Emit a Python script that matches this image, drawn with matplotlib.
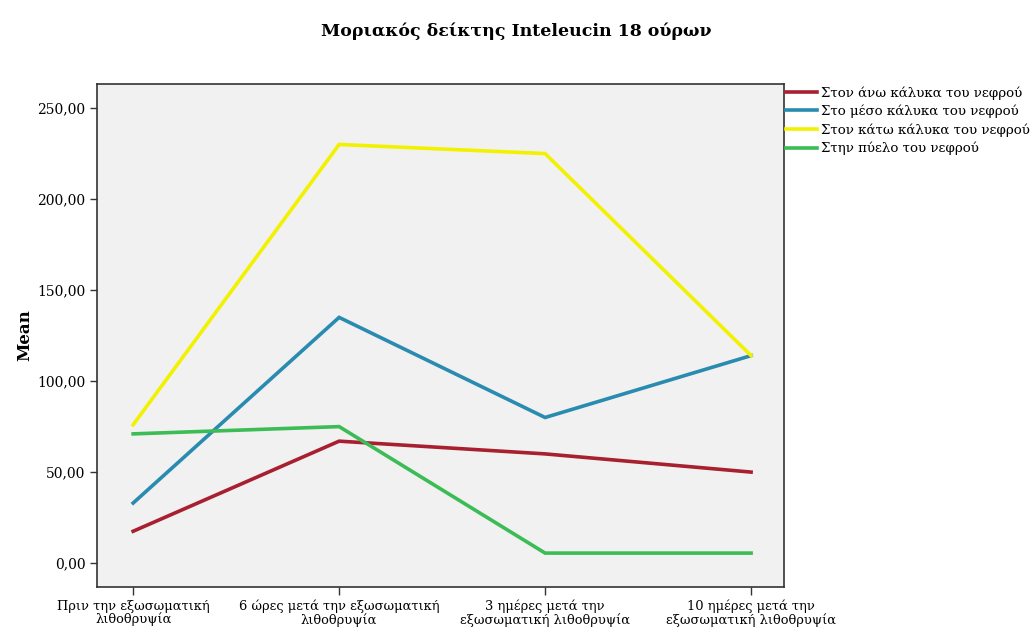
import matplotlib.pyplot as plt
from matplotlib.ticker import FuncFormatter

plt.rcParams["font.family"] = ["DejaVu Serif"]

# Χρονικά σημεία μέτρησης
categories = [
    "Πριν την εξωσωματική\nλιθοθρυψία",
    "6 ώρες μετά την εξωσωματική\nλιθοθρυψία",
    "3 ημέρες μετά την\nεξωσωματική λιθοθρυψία",
    "10 ημέρες μετά την\nεξωσωματική λιθοθρυψία",
]

# Μέσες τιμές ανά περιοχή του νεφρού
upper_calyx = [17.5, 67, 60, 50]
middle_calyx = [33, 135, 80, 114]
lower_calyx = [76, 230, 225, 114]
pelvis = [71, 75, 5.5, 5.5]

series_labels = [
    "Στον άνω κάλυκα του νεφρού",
    "Στο μέσο κάλυκα του νεφρού",
    "Στον κάτω κάλυκα του νεφρού",
    "Στην πύελο του νεφρού",
]
series_colors = ["#a8202f", "#2a8bb0", "#f2f200", "#3cbc55"]

fig = plt.figure(figsize=(10.33, 6.32), dpi=100)
ax = fig.add_axes([0.094, 0.071, 0.665, 0.796])
ax.set_facecolor("#f1f1f1")

x = range(len(categories))
for values, label, color in zip(
    [upper_calyx, middle_calyx, lower_calyx, pelvis], series_labels, series_colors
):
    ax.plot(x, values, color=color, linewidth=2.6, label=label, solid_joinstyle="miter")

ax.set_xlim(-0.175, 3.16)
ax.set_ylim(-13.2, 263.2)
ax.set_xticks(list(x))
ax.set_xticklabels(categories, fontsize=9.4, linespacing=1.0)
ax.set_yticks([0, 50, 100, 150, 200, 250])
ax.yaxis.set_major_formatter(FuncFormatter(lambda v, p: f"{v:.2f}".replace(".", ",")))
ax.tick_params(axis="y", labelsize=10, length=5, width=1, color="#333333")
ax.tick_params(axis="x", length=6, width=1, color="#333333", pad=3)
for spine in ax.spines.values():
    spine.set_color("#333333")
    spine.set_linewidth(1.2)

ax.set_ylabel("Mean", fontsize=12, fontweight="bold", labelpad=3)
fig.suptitle("Μοριακός δείκτης Inteleucin 18 ούρων", fontsize=12.5, fontweight="bold", y=0.965)

ax.legend(
    loc="upper left",
    bbox_to_anchor=(1.0, 1.0),
    frameon=False,
    fontsize=9.6,
    handlelength=2.3,
    handletextpad=0.3,
    labelspacing=0.38,
    borderaxespad=0.0,
    borderpad=0.15,
)

plt.savefig("out.png", dpi=100)
